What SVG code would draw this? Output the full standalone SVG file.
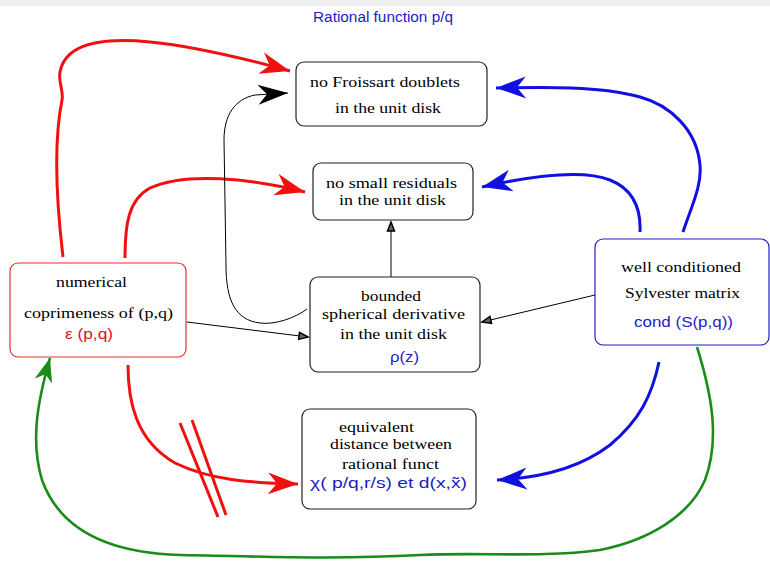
<svg xmlns="http://www.w3.org/2000/svg" width="770" height="565" viewBox="0 0 770 565">
<style>
.box{fill:#fff;stroke:#222;stroke-width:1.2}
.t{font-family:"Liberation Serif","Times New Roman",serif;font-size:15px;fill:#000}
.s{font-family:"Liberation Sans",Arial,sans-serif;font-size:14px}
.blue{fill:#1c1cc8}
.red{fill:#e01010}
.cr{fill:none;stroke:#f01010;stroke-width:3}
.cb{fill:none;stroke:#1010e0;stroke-width:3}
.cg{fill:none;stroke:#1a8c1a;stroke-width:2.6}
.ck{fill:none;stroke:#000;stroke-width:1}
</style>
<defs>
<marker id="ar" markerUnits="userSpaceOnUse" orient="auto" markerWidth="34" markerHeight="26" refX="0" refY="0" viewBox="-32 -13 34 26" overflow="visible"><path d="M0,0 L-30,-11 L-21,0 L-30,11 Z" fill="#f01010"/></marker>
<marker id="ab" markerUnits="userSpaceOnUse" orient="auto" markerWidth="34" markerHeight="26" refX="0" refY="0" viewBox="-32 -13 34 26" overflow="visible"><path d="M0,0 L-30,-11 L-21,0 L-30,11 Z" fill="#1010e0"/></marker>
<marker id="ag" markerUnits="userSpaceOnUse" orient="auto" markerWidth="30" markerHeight="24" refX="0" refY="0" viewBox="-28 -12 30 24" overflow="visible"><path d="M0,0 L-24,-9 L-17,0 L-24,9 Z" fill="#1a8c1a"/></marker>
<marker id="ak" markerUnits="userSpaceOnUse" orient="auto" markerWidth="34" markerHeight="26" refX="0" refY="0" viewBox="-32 -13 34 26" overflow="visible"><path d="M0,0 L-30,-10 L-21,0 L-30,10 Z" fill="#000"/></marker>
<marker id="at" markerUnits="userSpaceOnUse" orient="auto" markerWidth="14" markerHeight="10" refX="0" refY="0" viewBox="-12 -5 14 10" overflow="visible"><path d="M0,0 L-9,-3.5 L-9,3.5 Z" fill="#666" stroke="#000" stroke-width="1.5"/></marker>
</defs>
<rect x="0" y="0" width="770" height="6" fill="#efefef"/>
<text class="s blue" x="313" y="22" font-size="13" textLength="140" lengthAdjust="spacingAndGlyphs">Rational function p/q</text>

<g id="connectors">
<path class="cr" d="M63,257 C58,215 52,150 62,100 C64,92 58,82 60,72 C66,40 110,38 150,42 C200,47 250,60 290,71" marker-end="url(#ar)"/>
<path class="cr" d="M125,258 C125,225 128,200 150,188 C185,172 250,178 305,192" marker-end="url(#ar)"/>
<path class="cr" d="M128,365 C128,400 135,440 175,463 C210,480 250,483 298,484" marker-end="url(#ar)"/>
<path class="cr" stroke-width="2.4" d="M180,423 L218,517 M192,420 L226,515"/>
<path class="ck" d="M307,309 C295,318 275,325 260,323 C235,320 226,300 226,265 L224,140 C224,115 235,99 255,95 L288,93" marker-end="url(#ak)"/>
<path class="ck" d="M187,322 L308,337" marker-end="url(#at)"/>
<path class="ck" d="M391,277 L391,222" marker-end="url(#at)"/>
<path class="ck" d="M595,295 L482,322" marker-end="url(#at)"/>
<path class="cb" d="M683,232 C692,205 702,185 700,165 C697,130 670,105 640,97 C600,86 545,87 496,88" marker-end="url(#ab)"/>
<path class="cb" d="M640,232 C641,210 635,190 610,180 C585,170 540,174 482,187" marker-end="url(#ab)"/>
<path class="cb" d="M659,362 C652,395 640,420 610,445 C580,468 540,478 497,480" marker-end="url(#ab)"/>
<path class="cg" d="M697,347 C712,395 720,440 705,480 C690,515 650,540 600,550 C540,558 480,552 420,555 C330,560 250,556 180,555 C110,553 60,530 42,480 C30,440 38,400 50,358" marker-end="url(#ag)"/>
</g>

<g id="n-froissart">
<rect class="box" x="296" y="62" width="191" height="64" rx="8"/>
<text class="t" x="310" y="87" textLength="150" lengthAdjust="spacingAndGlyphs">no Froissart doublets</text>
<text class="t" x="335" y="113" textLength="106" lengthAdjust="spacingAndGlyphs">in the unit disk</text>
</g>
<g id="n-residuals">
<rect class="box" x="313" y="163" width="160" height="57" rx="8"/>
<text class="t" x="326" y="188" textLength="131" lengthAdjust="spacingAndGlyphs">no small residuals</text>
<text class="t" x="339" y="205" textLength="107" lengthAdjust="spacingAndGlyphs">in the unit disk</text>
</g>
<g id="n-spherical">
<rect class="box" x="310" y="277" width="170" height="95" rx="8"/>
<text class="t" x="361" y="301" textLength="60" lengthAdjust="spacingAndGlyphs">bounded</text>
<text class="t" x="322" y="319" textLength="143" lengthAdjust="spacingAndGlyphs">spherical derivative</text>
<text class="t" x="340" y="339" textLength="107" lengthAdjust="spacingAndGlyphs">in the unit disk</text>
<text class="s blue" x="390" y="362" textLength="29" lengthAdjust="spacingAndGlyphs">ρ(z)</text>
</g>
<g id="n-coprime">
<rect x="10" y="263" width="176" height="94" rx="8" fill="#fff" stroke="#e03030" stroke-width="1.2"/>
<text class="t" x="56" y="287" textLength="71" lengthAdjust="spacingAndGlyphs">numerical</text>
<text class="t" x="24" y="318" textLength="149" lengthAdjust="spacingAndGlyphs">coprimeness of (p,q)</text>
<text class="s red" x="65" y="339" textLength="48" lengthAdjust="spacingAndGlyphs">ε (p,q)</text>
</g>
<g id="n-sylvester">
<rect x="595" y="239" width="174" height="106" rx="8" fill="#fff" stroke="#2020c0" stroke-width="1.2"/>
<text class="t" x="621" y="272" textLength="120" lengthAdjust="spacingAndGlyphs">well conditioned</text>
<text class="t" x="625" y="298" textLength="115" lengthAdjust="spacingAndGlyphs">Sylvester matrix</text>
<text class="s blue" x="634" y="327" textLength="99" lengthAdjust="spacingAndGlyphs">cond (S(p,q))</text>
</g>
<g id="n-distance">
<rect class="box" x="302" y="409" width="174" height="100" rx="8"/>
<text class="t" x="339" y="432" textLength="75" lengthAdjust="spacingAndGlyphs">equivalent</text>
<text class="t" x="330" y="449" textLength="122" lengthAdjust="spacingAndGlyphs">distance between</text>
<text class="t" x="342" y="469" textLength="97" lengthAdjust="spacingAndGlyphs">rational funct</text>
<text class="s blue" x="310" y="488" textLength="157" lengthAdjust="spacingAndGlyphs">χ( p/q,r/s) et d(x,x̃)</text>
</g>
</svg>
